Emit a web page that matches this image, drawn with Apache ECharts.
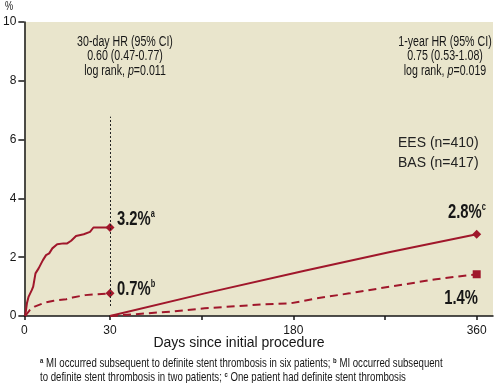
<!DOCTYPE html>
<html>
<head>
<meta charset="utf-8">
<script src="https://cdn.jsdelivr.net/npm/echarts@6/dist/echarts.min.js"></script>
<style>html,body{margin:0;padding:0;background:#fff}#c{width:495px;height:383px}</style>
</head>
<body>
<div id="c"></div>
<script>
// ---- data ----
const earlyTicks = [0, 30];
const lateTickValues = [0, 90, 180, 270, 360];
const lateLabelValues = [180, 360];

const eesEarlyDays = [0.3, 0.9, 1.5, 2.6, 3.1, 3.9, 5.0, 6.5, 7.6, 8.7, 9.8, 11.5, 13.7, 15, 16.4, 18.1, 20.8, 23, 24.2, 30];
const eesEarly     = [0, 0.43, 0.66, 0.88, 1.0, 1.45, 1.62, 1.9, 2.07, 2.13, 2.3, 2.44, 2.47, 2.47, 2.56, 2.72, 2.78, 2.86, 3.01, 3.01];
const basEarlyDays = [0.3, 1.9, 3.6, 7, 10.3, 14.7, 16.9, 21.3, 30];
const basEarly     = [0, 0.2, 0.32, 0.45, 0.52, 0.57, 0.63, 0.71, 0.77];

const eesLateDays = [0, 93, 191, 275, 360];
const eesLate     = [0, 0.77, 1.54, 2.18, 2.78];
const basLateDays = [0, 28, 60, 93, 126, 152, 177, 203, 235, 275, 320, 360];
const basLate     = [0, 0.07, 0.15, 0.26, 0.34, 0.40, 0.43, 0.6, 0.77, 1.0, 1.25, 1.42];

const landmarkLine = [[30, 0.34], [30, 6.78]];

// ---- styles ----
const RED = '#A0172B';
const INK = '#161616';
const SANS = '"Liberation Sans",Arial,sans-serif';
const BG = '#E9E5CC';
const NARROW_SCALE = 0.76;

function pts(xs, ys, endSymbol) {
  return xs.map((x, i) => {
    const item = { value: [x, ys[i]] };
    if (i === xs.length - 1) { item.symbol = endSymbol; item.symbolSize = endSymbol === 'rect' ? 8 : 9; }
    return item;
  });
}

// condensed-looking text: regular font squeezed horizontally
function ntext(x, y, style, scale) {
  return { type: 'text', x: x, y: y, scaleX: scale || NARROW_SCALE, style: Object.assign({ fill: INK, verticalAlign: 'middle' }, style) };
}
function richT(size, extra) { return Object.assign({ fontFamily: SANS, fontSize: size, fill: INK }, extra || {}); }

const chart = echarts.init(document.getElementById('c'), null, { renderer: 'canvas' });
const axisLineStyle = { color: INK, width: 1.5 };
const axisLabelStyle = { fontFamily: SANS, fontSize: 12, color: INK };

chart.setOption({
  animation: false,
  grid: [
    { left: 19, top: 22, width: 91, height: 294, show: true, backgroundColor: BG, borderWidth: 0 },
    { left: 110, top: 22, width: 383, height: 294, show: true, backgroundColor: BG, borderWidth: 0 }
  ],
  xAxis: [
    {
      gridIndex: 0, type: 'value', min: 0, max: 30, interval: 30,
      axisLine: { show: true, lineStyle: axisLineStyle },
      axisTick: { show: true, length: 4, lineStyle: { color: INK, width: 1.5 }, customValues: earlyTicks },
      axisLabel: Object.assign({ margin: 9, customValues: earlyTicks }, axisLabelStyle),
      splitLine: { show: false }
    },
    {
      gridIndex: 1, type: 'value', min: 0, max: 376,
      axisLine: { show: true, lineStyle: axisLineStyle },
      axisTick: { show: true, length: 4, lineStyle: { color: INK, width: 1.5 }, customValues: lateTickValues },
      axisLabel: Object.assign({ margin: 9, customValues: lateLabelValues }, axisLabelStyle),
      splitLine: { show: false }
    }
  ],
  yAxis: [
    {
      gridIndex: 0, type: 'value', min: 0, max: 10, interval: 2,
      axisLine: { show: true, lineStyle: axisLineStyle },
      axisTick: { show: true, length: 6, lineStyle: { color: INK, width: 1.5 } },
      axisLabel: Object.assign({ margin: 8 }, axisLabelStyle),
      splitLine: { show: false }
    },
    { gridIndex: 1, type: 'value', min: 0, max: 10, interval: 2, show: false, splitLine: { show: false } }
  ],
  series: [
    {
      type: 'line', xAxisIndex: 0, yAxisIndex: 0, data: pts(eesEarlyDays, eesEarly, 'diamond'),
      symbol: 'none', showSymbol: true, showAllSymbol: true,
      lineStyle: { color: RED, width: 2 }, itemStyle: { color: RED },
      markLine: {
        silent: true, symbol: 'none', label: { show: false },
        lineStyle: { color: '#222', type: [2, 2], width: 1 },
        data: [[{ coord: landmarkLine[0] }, { coord: landmarkLine[1] }]]
      },
      z: 3
    },
    {
      type: 'line', xAxisIndex: 0, yAxisIndex: 0, data: pts(basEarlyDays, basEarly, 'diamond'),
      symbol: 'none', showSymbol: true, showAllSymbol: true,
      lineStyle: { color: RED, width: 2, type: [8, 5] }, itemStyle: { color: RED }, z: 3
    },
    {
      type: 'line', xAxisIndex: 1, yAxisIndex: 1, data: pts(eesLateDays, eesLate, 'diamond'),
      symbol: 'none', showSymbol: true, showAllSymbol: true,
      lineStyle: { color: RED, width: 2 }, itemStyle: { color: RED }, z: 3
    },
    {
      type: 'line', xAxisIndex: 1, yAxisIndex: 1, data: pts(basLateDays, basLate, 'rect'),
      symbol: 'none', showSymbol: true, showAllSymbol: true,
      lineStyle: { color: RED, width: 2, type: [8, 5] }, itemStyle: { color: RED }, z: 3
    }
  ],
  graphic: [
    ntext(5, 7, { text: '%', font: '12px ' + SANS }),
    // 30-day annotation
    ntext(125, 42, { text: '30-day HR (95% CI)', font: '14px ' + SANS, align: 'center' }),
    ntext(125, 56, { text: '0.60 (0.47-0.77)', font: '14px ' + SANS, align: 'center' }),
    ntext(125, 71, { text: '{t|log rank, }{i|p}{t|=0.011}', align: 'center',
      rich: { t: richT(14), i: richT(14, { fontStyle: 'italic' }) } }),
    // 1-year annotation
    ntext(445, 42, { text: '1-year HR (95% CI)', font: '14px ' + SANS, align: 'center' }),
    ntext(445, 56, { text: '0.75 (0.53-1.08)', font: '14px ' + SANS, align: 'center' }),
    ntext(445, 71, { text: '{t|log rank, }{i|p}{t|=0.019}', align: 'center',
      rich: { t: richT(14), i: richT(14, { fontStyle: 'italic' }) } }),
    // legend text
    { type: 'text', x: 398, y: 143, style: { text: 'EES (n=410)', font: '14px ' + SANS, fill: '#222', verticalAlign: 'middle' } },
    { type: 'text', x: 398, y: 163, style: { text: 'BAS (n=417)', font: '14px ' + SANS, fill: '#222', verticalAlign: 'middle' } },
    // value labels
    ntext(117, 219, { text: '{b|3.2%}{s|a}',
      rich: { b: richT(20, { fontWeight: 'bold', verticalAlign: 'bottom' }), s: richT(10, { fontWeight: 'bold', verticalAlign: 'top' }) } }, 0.74),
    ntext(117, 289, { text: '{b|0.7%}{s|b}',
      rich: { b: richT(20, { fontWeight: 'bold', verticalAlign: 'bottom' }), s: richT(10, { fontWeight: 'bold', verticalAlign: 'top' }) } }, 0.74),
    ntext(448, 212, { text: '{b|2.8%}{s|c}',
      rich: { b: richT(20, { fontWeight: 'bold', verticalAlign: 'bottom' }), s: richT(10, { fontWeight: 'bold', verticalAlign: 'top' }) } }, 0.74),
    ntext(478, 298, { text: '1.4%', font: 'bold 20px ' + SANS, align: 'right' }, 0.74),
    // axis title
    { type: 'text', x: 239, y: 343, style: { text: 'Days since initial procedure', font: '14px ' + SANS, fill: INK, align: 'center', verticalAlign: 'middle' } },
    // footnotes
    ntext(40, 363, { text: '{s|a}{t| MI occurred subsequent to definite stent thrombosis in six patients; }{s|b}{t| MI occurred subsequent}',
      rich: { t: richT(13, { verticalAlign: 'bottom' }), s: richT(8, { fontWeight: 'bold', verticalAlign: 'top' }) } }, 0.74),
    ntext(40, 377, { text: '{t|to definite stent thrombosis in two patients; }{s|c}{t| One patient had definite stent thrombosis}',
      rich: { t: richT(13, { verticalAlign: 'bottom' }), s: richT(8, { fontWeight: 'bold', verticalAlign: 'top' }) } }, 0.74)
  ]
});
</script>
</body>
</html>
